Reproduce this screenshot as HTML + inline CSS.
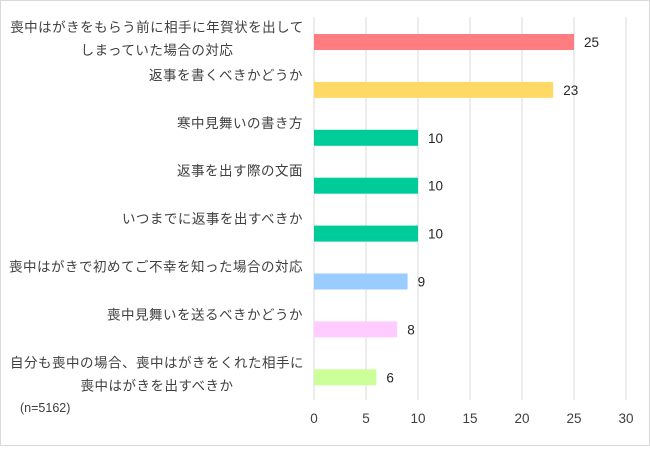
<!DOCTYPE html>
<html><head><meta charset="utf-8"><style>
body{margin:0;background:#fff}
svg text{font-family:"Liberation Sans","Noto Sans CJK JP",sans-serif;fill:#404040}
</style></head><body>
<svg width="650" height="446" viewBox="0 0 650 446" xmlns="http://www.w3.org/2000/svg">
<rect x="0.5" y="0.5" width="649" height="445" fill="#fff" stroke="#d9d9d9"/>
<g id="grid"></g><g id="bars"></g><g id="labels"></g><g id="ticks"></g>
<text x="20" y="412" font-size="12.5">(n=5162)</text>
</svg>
<script>
const categories=[["喪中はがきをもらう前に相手に年賀状を出して","しまっていた場合の対応"],["返事を書くべきかどうか"],["寒中見舞いの書き方"],["返事を出す際の文面"],["いつまでに返事を出すべきか"],["喪中はがきで初めてご不幸を知った場合の対応"],["喪中見舞いを送るべきかどうか"],["自分も喪中の場合、喪中はがきをくれた相手に","喪中はがきを出すべきか"]];
const values=[25,23,10,10,10,9,8,6];
const colors=["#ff7c80","#ffd966","#00cc99","#00cc99","#00cc99","#99ccff","#ffccff","#ccff99"];
const tickValues=[0,5,10,15,20,25,30];
const NS="http://www.w3.org/2000/svg";
const x0=314,x1=626,xMax=30,yTop=42,step=47.9,bh=16;
const xs=v=>x0+(x1-x0)*v/xMax;
const ys=i=>yTop+i*step;
function mk(t,a,p){const e=document.createElementNS(NS,t);for(const k in a)e.setAttribute(k,a[k]);document.getElementById(p).appendChild(e);return e;}
tickValues.forEach(t=>{
 const l=mk("line",{x1:xs(t),x2:xs(t),y1:17,y2:400,stroke:"#d9d9d9","stroke-width":1},"grid");
 
 
 const tx=mk("text",{x:xs(t),y:423,"font-size":13.5,"text-anchor":"middle"},"ticks");
 tx.textContent=t;
 
 
});
values.forEach((v,i)=>{
 const c=ys(i);
 const r=mk("rect",{x:x0,y:c-bh/2,width:xs(v)-x0,height:bh,fill:colors[i]},"bars");
 
 
 const vl=mk("text",{x:xs(v)+10,y:c+5,"font-size":13.5,style:"fill:#262626"},"labels");
 vl.textContent=v;
 
 
 const lines=categories[i];
 lines.forEach((s,j)=>{
  const multi=lines.length>1;
  const yy=(multi?c-15+j*23:c-15)+5;
  const t=mk("text",{x:multi?157:303,y:yy,"font-size":13.5,"letter-spacing":0.5,"text-anchor":multi?"middle":"end"},"labels");
  t.textContent=s;
  
  
 });
});
</script>
</body></html>
